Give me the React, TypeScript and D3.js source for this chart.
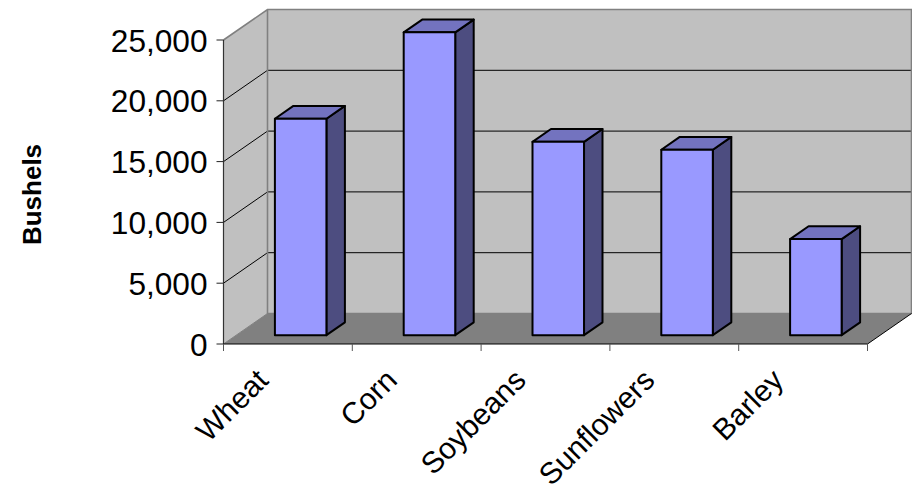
import React from "react";
import * as d3 from "d3";

const categories = ["Wheat", "Corn", "Soybeans", "Sunflowers", "Barley"];
const bushels = [17800, 24900, 15900, 15250, 7900];
const yTicks = [0, 5000, 10000, 15000, 20000, 25000];

const WIDTH = 912;
const HEIGHT = 484;
const font = "'Liberation Sans', Arial, sans-serif";

// Oblique projection: depth 0 is the front of the plot box, depth 1 the back wall.
const depthX = d3.scaleLinear().domain([0, 1]).range([0, 44]);
const depthY = d3.scaleLinear().domain([0, 1]).range([0, -30.5]);
const x = d3.scaleBand<string>().domain(categories).range([223.5, 867.5]);
const y = d3.scaleLinear().domain([0, 25000]).range([344, 40]);

const BAR_NEAR = 0.29;
const BAR_FAR = 0.71;
const BAR_RATIO = 0.4;

const pt = (px: number, value: number, depth: number): [number, number] => [
  px + depthX(depth),
  y(value) + depthY(depth),
];
const poly = (pts: [number, number][]) => pts.map((p) => p.join(",")).join(" ");

const [x0, x1] = x.range();
const top = yTicks[yTicks.length - 1];

export default function App() {
  return (
    <svg
      width={WIDTH}
      height={HEIGHT}
      style={{ position: "absolute", left: 0, top: 0, background: "#fff" }}
    >
      {/* Walls and floor */}
      <polygon
        points={poly([pt(x0, 0, 1), pt(x1, 0, 1), pt(x1, top, 1), pt(x0, top, 1)])}
        fill="#c0c0c0"
      />
      <polygon
        points={poly([pt(x0, 0, 0), pt(x0, 0, 1), pt(x0, top, 1), pt(x0, top, 0)])}
        fill="#c0c0c0"
      />
      <polygon
        points={poly([pt(x0, 0, 0), pt(x1, 0, 0), pt(x1, 0, 1), pt(x0, 0, 1)])}
        fill="#808080"
      />

      {/* Gridlines across the side and back walls */}
      {yTicks.slice(1, -1).map((t) => (
        <polyline
          key={t}
          points={poly([pt(x0, t, 0), pt(x0, t, 1), pt(x1, t, 1)])}
          fill="none"
          stroke="#000"
          strokeWidth={1}
        />
      ))}

      {/* Wall outlines */}
      <polyline
        points={poly([pt(x0, top, 0), pt(x0, top, 1), pt(x1, top, 1), pt(x1, 0, 1), pt(x0, 0, 1), pt(x0, top, 1)])}
        fill="none"
        stroke="#808080"
        strokeWidth={1.6}
      />
      <line
        x1={pt(x0, 0, 0)[0]}
        y1={pt(x0, 0, 0)[1]}
        x2={pt(x0, 0, 1)[0]}
        y2={pt(x0, 0, 1)[1]}
        stroke="#808080"
        strokeWidth={1}
      />

      {/* Axes */}
      <line x1={x0} y1={y(0)} x2={x0} y2={y(top)} stroke="#333" strokeWidth={1.2} />
      <line x1={x0} y1={y(0)} x2={x1} y2={y(0)} stroke="#000" strokeWidth={1.2} />
      <polyline
        points={poly([pt(x1, 0, 0), pt(x1, 0, 1)])}
        fill="none"
        stroke="#000"
        strokeWidth={1}
      />
      {yTicks.map((t) => (
        <g key={t}>
          <line x1={x0 - 7} y1={y(t)} x2={x0} y2={y(t)} stroke="#222" strokeWidth={1} />
          <text
            transform={`translate(${x0 - 16},${y(t) + 11.5}) scale(1.02,1)`}
            textAnchor="end"
            fontFamily={font}
            fontSize={31}
            fill="#000"
          >
            {d3.format(",")(t)}
          </text>
        </g>
      ))}
      {[...categories.map((c) => x(c)!), x1].map((px) => (
        <line key={px} x1={px} y1={y(0)} x2={px} y2={y(0) + 7} stroke="#555" strokeWidth={1} />
      ))}

      {/* Bars */}
      {categories.map((c, i) => {
        const w = x.bandwidth() * BAR_RATIO;
        const l = x(c)! + (x.bandwidth() - w) / 2;
        const r = l + w;
        const v = bushels[i];
        return (
          <g key={c} stroke="#000" strokeWidth={2} strokeLinejoin="round">
            <polygon
              points={poly([pt(r, 0, BAR_NEAR), pt(r, 0, BAR_FAR), pt(r, v, BAR_FAR), pt(r, v, BAR_NEAR)])}
              fill="#4d4d80"
            />
            <polygon
              points={poly([pt(l, v, BAR_NEAR), pt(r, v, BAR_NEAR), pt(r, v, BAR_FAR), pt(l, v, BAR_FAR)])}
              fill="#7373bf"
            />
            <polygon
              points={poly([pt(l, 0, BAR_NEAR), pt(r, 0, BAR_NEAR), pt(r, v, BAR_NEAR), pt(l, v, BAR_NEAR)])}
              fill="#9999ff"
            />
          </g>
        );
      })}

      {/* Category labels, read upward at 45 degrees and ending under each band */}
      {categories.map((c) => {
        const cx = x(c)! + x.bandwidth() / 2 - 18;
        return (
          <text
            key={c}
            transform={`translate(${cx},${y(0) + 38}) rotate(-45)`}
            textAnchor="end"
            fontFamily={font}
            fontSize={30}
            fill="#000"
          >
            {c}
          </text>
        );
      })}

      <text
        transform="translate(41,194.5) rotate(-90)"
        textAnchor="middle"
        fontFamily={font}
        fontWeight="bold"
        fontSize={26}
        fill="#000"
      >
        Bushels
      </text>
    </svg>
  );
}
